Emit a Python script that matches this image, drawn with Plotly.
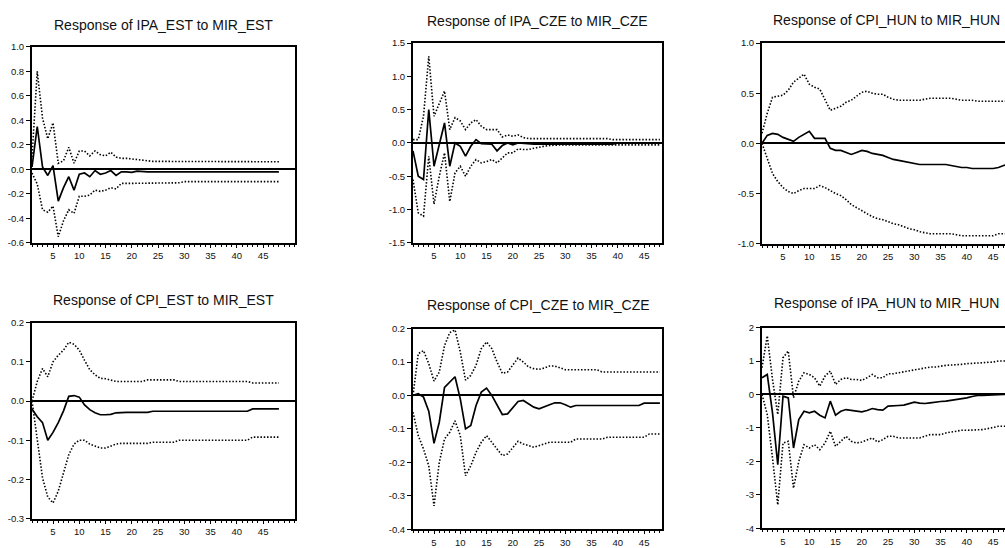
import plotly.graph_objects as go

# ---------------- data ----------------
periods = list(range(1, 49))

titles = [
    "Response of IPA_EST to MIR_EST",
    "Response of IPA_CZE to MIR_CZE",
    "Response of CPI_HUN to MIR_HUN",
    "Response of CPI_EST to MIR_EST",
    "Response of CPI_CZE to MIR_CZE",
    "Response of IPA_HUN to MIR_HUN",
]

x_tick_vals = [5, 10, 15, 20, 25, 30, 35, 40, 45]
x_tick_text = ["5", "10", "15", "20", "25", "30", "35", "40", "45"]

# Panel 1: IPA_EST to MIR_EST
resp1 = [0.02, 0.35, 0.02, -0.05, 0.03, -0.26, -0.15, -0.06, -0.17, -0.04,
         -0.03, -0.06, -0.01, -0.04, -0.03, -0.01, -0.05, -0.02, -0.02, -0.025,
         -0.015, -0.02, -0.02, -0.02, -0.02, -0.02, -0.02, -0.02, -0.02, -0.02,
         -0.02, -0.02, -0.02, -0.02, -0.02, -0.02, -0.02, -0.02, -0.02, -0.02,
         -0.02, -0.02, -0.02, -0.02, -0.02, -0.02, -0.02, -0.02]
upper1 = [0.10, 0.80, 0.42, 0.25, 0.38, 0.05, 0.07, 0.18, 0.05, 0.15,
          0.15, 0.11, 0.15, 0.12, 0.11, 0.14, 0.10, 0.09, 0.09, 0.085,
          0.075, 0.07, 0.065, 0.065, 0.065, 0.065, 0.064, 0.064, 0.064, 0.064,
          0.064, 0.064, 0.064, 0.064, 0.063, 0.063, 0.063, 0.063, 0.063, 0.063,
          0.063, 0.063, 0.062, 0.062, 0.062, 0.062, 0.062, 0.062]
lower1 = [-0.03, -0.12, -0.33, -0.35, -0.30, -0.55, -0.42, -0.33, -0.36, -0.22,
          -0.22, -0.21, -0.17, -0.18, -0.17, -0.15, -0.16, -0.115, -0.115, -0.115,
          -0.115, -0.115, -0.115, -0.115, -0.115, -0.115, -0.115, -0.115, -0.11, -0.10,
          -0.10, -0.10, -0.10, -0.10, -0.10, -0.10, -0.10, -0.10, -0.10, -0.10,
          -0.10, -0.10, -0.10, -0.10, -0.10, -0.10, -0.10, -0.10]

# Panel 2: IPA_CZE to MIR_CZE
resp2 = [-0.12, -0.50, -0.55, 0.50, -0.35, 0.00, 0.30, -0.35, 0.00, -0.05,
         -0.20, -0.05, 0.05, -0.01, -0.02, -0.02, -0.12, -0.04, 0.00, -0.03,
         0.00, -0.01, -0.02, -0.02, -0.02, -0.02, -0.03, -0.03, -0.02, -0.02,
         -0.02, -0.02, -0.02, -0.02, -0.02, -0.02, -0.02, -0.02, -0.02, 0.00,
         0.00, 0.00, 0.00, 0.00, 0.00, 0.00, 0.00, 0.00]
upper2 = [0.05, 0.05, 0.40, 1.30, 0.40, 0.60, 0.78, 0.20, 0.38, 0.33,
          0.20, 0.30, 0.35, 0.25, 0.20, 0.20, 0.20, 0.09, 0.12, 0.10,
          0.12, 0.08, 0.065, 0.065, 0.065, 0.065, 0.065, 0.065, 0.065, 0.065,
          0.065, 0.065, 0.065, 0.065, 0.065, 0.065, 0.065, 0.065, 0.05, 0.05,
          0.05, 0.05, 0.05, 0.05, 0.05, 0.05, 0.05, 0.05]
lower2 = [-0.55, -1.05, -1.10, -0.20, -0.92, -0.50, -0.15, -0.88, -0.45, -0.35,
          -0.50, -0.35, -0.25, -0.30, -0.28, -0.25, -0.30, -0.22, -0.15, -0.15,
          -0.09, -0.10, -0.10, -0.08, -0.06, -0.05, -0.04, -0.03, -0.03, -0.03,
          -0.03, -0.03, -0.03, -0.03, -0.03, -0.03, -0.03, -0.03, -0.03, -0.03,
          -0.03, -0.03, -0.03, -0.03, -0.03, -0.03, -0.03, -0.03]

# Panel 3: CPI_HUN to MIR_HUN
resp3 = [0.00, 0.08, 0.10, 0.09, 0.06, 0.04, 0.02, 0.06, 0.09, 0.12,
         0.05, 0.05, 0.05, -0.05, -0.07, -0.07, -0.09, -0.11, -0.09, -0.07,
         -0.08, -0.10, -0.11, -0.12, -0.14, -0.16, -0.17, -0.18, -0.19, -0.20,
         -0.21, -0.21, -0.21, -0.21, -0.21, -0.21, -0.22, -0.23, -0.24, -0.24,
         -0.25, -0.25, -0.25, -0.25, -0.25, -0.24, -0.22, -0.21]
upper3 = [0.10, 0.30, 0.46, 0.47, 0.48, 0.53, 0.61, 0.65, 0.69, 0.59,
          0.56, 0.54, 0.43, 0.33, 0.35, 0.37, 0.41, 0.43, 0.47, 0.51,
          0.52, 0.50, 0.49, 0.49, 0.46, 0.44, 0.43, 0.43, 0.43, 0.43,
          0.43, 0.44, 0.45, 0.45, 0.45, 0.45, 0.45, 0.44, 0.43, 0.43,
          0.43, 0.42, 0.42, 0.42, 0.42, 0.42, 0.42, 0.42]
lower3 = [0.00, -0.15, -0.30, -0.38, -0.44, -0.48, -0.50, -0.47, -0.45, -0.45,
          -0.45, -0.42, -0.44, -0.47, -0.50, -0.52, -0.56, -0.61, -0.64, -0.67,
          -0.70, -0.73, -0.75, -0.76, -0.78, -0.80, -0.81, -0.83, -0.85, -0.86,
          -0.88, -0.89, -0.90, -0.90, -0.90, -0.90, -0.90, -0.91, -0.92, -0.92,
          -0.92, -0.92, -0.92, -0.92, -0.92, -0.90, -0.90, -0.90]

# Panel 4: CPI_EST to MIR_EST
resp4 = [-0.02, -0.04, -0.055, -0.10, -0.08, -0.055, -0.025, 0.012, 0.014, 0.010,
         -0.010, -0.022, -0.030, -0.035, -0.035, -0.034, -0.030, -0.029, -0.029, -0.029,
         -0.029, -0.029, -0.029, -0.026, -0.026, -0.026, -0.026, -0.026, -0.026, -0.026,
         -0.026, -0.026, -0.026, -0.026, -0.026, -0.026, -0.026, -0.026, -0.026, -0.026,
         -0.026, -0.026, -0.020, -0.020, -0.020, -0.020, -0.020, -0.020]
upper4 = [0.000, 0.050, 0.083, 0.062, 0.100, 0.117, 0.130, 0.150, 0.145, 0.130,
          0.104, 0.080, 0.067, 0.058, 0.057, 0.053, 0.050, 0.050, 0.050, 0.050,
          0.050, 0.050, 0.054, 0.054, 0.054, 0.054, 0.054, 0.054, 0.050, 0.050,
          0.050, 0.050, 0.050, 0.050, 0.050, 0.050, 0.050, 0.050, 0.050, 0.050,
          0.050, 0.050, 0.046, 0.046, 0.046, 0.046, 0.046, 0.046]
lower4 = [0.000, -0.100, -0.196, -0.245, -0.260, -0.230, -0.180, -0.137, -0.110, -0.100,
          -0.100, -0.110, -0.115, -0.120, -0.120, -0.115, -0.110, -0.108, -0.108, -0.108,
          -0.108, -0.108, -0.108, -0.105, -0.105, -0.105, -0.105, -0.105, -0.100, -0.100,
          -0.100, -0.100, -0.100, -0.100, -0.100, -0.100, -0.100, -0.100, -0.100, -0.100,
          -0.100, -0.100, -0.092, -0.092, -0.092, -0.092, -0.092, -0.092]

# Panel 5: CPI_CZE to MIR_CZE
resp5 = [0.000, 0.005, -0.005, -0.047, -0.143, -0.080, 0.024, 0.040, 0.056, -0.010,
         -0.100, -0.090, -0.030, 0.010, 0.022, 0.000, -0.030, -0.057, -0.055, -0.035,
         -0.018, -0.015, -0.025, -0.035, -0.040, -0.035, -0.028, -0.022, -0.022, -0.028,
         -0.035, -0.030, -0.030, -0.030, -0.030, -0.030, -0.030, -0.030, -0.030, -0.030,
         -0.030, -0.030, -0.030, -0.030, -0.023, -0.023, -0.023, -0.023]
upper5 = [0.000, 0.125, 0.134, 0.095, 0.043, 0.070, 0.149, 0.188, 0.196, 0.130,
          0.046, 0.060, 0.090, 0.140, 0.160, 0.140, 0.100, 0.066, 0.070, 0.090,
          0.112, 0.100, 0.085, 0.080, 0.078, 0.082, 0.088, 0.088, 0.082, 0.077,
          0.077, 0.077, 0.077, 0.077, 0.077, 0.077, 0.070, 0.070, 0.070, 0.070,
          0.070, 0.070, 0.070, 0.070, 0.070, 0.070, 0.070, 0.070]
lower5 = [-0.050, -0.120, -0.160, -0.210, -0.330, -0.200, -0.130, -0.110, -0.076, -0.120,
          -0.240, -0.210, -0.170, -0.140, -0.120, -0.140, -0.160, -0.180, -0.175, -0.155,
          -0.137, -0.145, -0.150, -0.155, -0.150, -0.145, -0.140, -0.140, -0.140, -0.140,
          -0.140, -0.130, -0.130, -0.130, -0.130, -0.130, -0.130, -0.125, -0.125, -0.125,
          -0.125, -0.125, -0.125, -0.125, -0.125, -0.115, -0.115, -0.115]

# Panel 6: IPA_HUN to MIR_HUN
resp6 = [0.50, 0.60, -0.55, -2.10, -0.05, -0.10, -1.60, -0.75, -0.50, -0.55,
         -0.50, -0.62, -0.70, -0.20, -0.62, -0.50, -0.45, -0.47, -0.50, -0.52,
         -0.48, -0.42, -0.45, -0.47, -0.35, -0.33, -0.33, -0.32, -0.28, -0.23,
         -0.26, -0.27, -0.25, -0.22, -0.21, -0.20, -0.18, -0.15, -0.12, -0.10,
         -0.06, -0.03, -0.03, -0.02, 0.00, 0.00, 0.00, 0.00]
upper6 = [0.80, 1.75, 0.45, -0.60, 1.10, 1.30, -0.10, 0.40, 0.65, 0.60,
          0.50, 0.25, 0.55, 0.70, 0.30, 0.45, 0.50, 0.45, 0.45, 0.42,
          0.50, 0.60, 0.50, 0.50, 0.62, 0.62, 0.65, 0.68, 0.72, 0.75,
          0.76, 0.80, 0.82, 0.82, 0.85, 0.87, 0.88, 0.88, 0.90, 0.92,
          0.93, 0.93, 0.94, 0.95, 0.97, 1.00, 1.00, 1.00]
lower6 = [0.00, -0.60, -1.90, -3.30, -1.45, -1.40, -2.80, -2.00, -1.50, -1.60,
          -1.50, -1.65, -1.45, -1.10, -1.55, -1.40, -1.25, -1.40, -1.45, -1.42,
          -1.35, -1.30, -1.42, -1.35, -1.25, -1.25, -1.30, -1.30, -1.30, -1.30,
          -1.30, -1.25, -1.20, -1.20, -1.20, -1.15, -1.12, -1.10, -1.07, -1.07,
          -1.07, -1.05, -1.05, -1.02, -0.98, -0.95, -0.95, -0.95]

y_tick_vals = [
    [-0.6, -0.4, -0.2, 0.0, 0.2, 0.4, 0.6, 0.8, 1.0],
    [-1.5, -1.0, -0.5, 0.0, 0.5, 1.0, 1.5],
    [-1.0, -0.5, 0.0, 0.5, 1.0],
    [-0.3, -0.2, -0.1, 0.0, 0.1, 0.2],
    [-0.4, -0.3, -0.2, -0.1, 0.0, 0.1, 0.2],
    [-4, -3, -2, -1, 0, 1, 2],
]
y_tick_text = [
    ["-0.6", "-0.4", "-0.2", "0.0", "0.2", "0.4", "0.6", "0.8", "1.0"],
    ["-1.5", "-1.0", "-0.5", "0.0", "0.5", "1.0", "1.5"],
    ["-1.0", "-0.5", "0.0", "0.5", "1.0"],
    ["-0.3", "-0.2", "-0.1", "0.0", "0.1", "0.2"],
    ["-0.4", "-0.3", "-0.2", "-0.1", "0.0", "0.1", "0.2"],
    ["-4", "-3", "-2", "-1", "0", "1", "2"],
]

responses = [resp1, resp2, resp3, resp4, resp5, resp6]
uppers = [upper1, upper2, upper3, upper4, upper5, upper6]
lowers = [lower1, lower2, lower3, lower4, lower5, lower6]

# ---------------- layout (pixel boxes in the window) ----------------
W, H = 1005, 548
# (left, right, top, bottom); right column is cut by the window edge
boxes = [
    (32, 295, 42, 243),
    (413, 662, 38, 243),
    (762, 1005, 38, 244),
    (32, 295, 325, 526),
    (413, 662, 331, 537),
    (762, 1005, 330, 536),
]
px_per_period = 249 / 47.4
x_ranges = [[1, 1 + (r - l) / px_per_period] for (l, r, t, b) in boxes]
cut_right = [False, False, True, False, False, True]
title_pos = [(163, 19), (537, 15), (886, 14), (163, 302), (538, 307), (886, 305)]

fig = go.Figure()
tick_font = dict(family="Liberation Sans, Arial, sans-serif", size=9.5, color="#111111")

for i in range(6):
    ax = "" if i == 0 else str(i + 1)
    xref, yref = "x" + ax, "y" + ax
    for band in (uppers[i], lowers[i]):
        fig.add_trace(go.Scatter(
            x=periods, y=band, mode="lines", xaxis=xref, yaxis=yref,
            line=dict(color="black", width=1.6, dash="1.5px,1.8px"),
            showlegend=False, hoverinfo="skip"))
    fig.add_trace(go.Scatter(
        x=periods, y=responses[i], mode="lines", xaxis=xref, yaxis=yref,
        line=dict(color="black", width=1.7), showlegend=False))

    l, r, t, b = boxes[i]
    yv = y_tick_vals[i]
    fig.layout["xaxis" + ax] = dict(
        domain=[l / W, r / W], anchor=yref, range=x_ranges[i],
        tickmode="array", tickvals=x_tick_vals, ticktext=x_tick_text,
        ticks="outside", ticklen=3, tickwidth=1, tickcolor="black",
        minor=dict(ticks="outside", ticklen=2, tickmode="linear", tick0=1, dtick=1,
                   tickcolor="black", tickwidth=1),
        showline=True, linecolor="black", linewidth=2, mirror=True,
        showgrid=False, zeroline=False, tickfont=tick_font, fixedrange=True,
        ticklabeloverflow="allow")
    fig.layout["yaxis" + ax] = dict(
        domain=[1 - b / H, 1 - t / H], anchor=xref, range=[yv[0], yv[-1]],
        tickmode="array", tickvals=yv, ticktext=y_tick_text[i],
        ticks="outside", ticklen=4, tickwidth=1, tickcolor="black",
        showline=True, linecolor="black", linewidth=2, mirror=not cut_right[i],
        showgrid=False, zeroline=True, zerolinecolor="black", zerolinewidth=1.6,
        tickfont=tick_font, fixedrange=True, ticklabeloverflow="allow")
    tx, ty = title_pos[i]
    fig.add_annotation(
        text=titles[i], x=tx / W, y=1 - ty / H, xref="paper", yref="paper",
        xanchor="center", yanchor="middle", showarrow=False,
        font=dict(family="Liberation Sans, Arial, sans-serif", size=14, color="#111111"))

fig.update_layout(
    width=W, height=H, margin=dict(l=0, r=0, t=0, b=0),
    paper_bgcolor="white", plot_bgcolor="white", showlegend=False)

# let the figure fill the window exactly (no default page margin, no scrollbars)
page_fix = ("document.documentElement.style.overflow='hidden';"
            "document.body.style.margin='0';document.body.style.overflow='hidden';")
fig.write_html("out.html", config={"displayModeBar": False}, post_script=page_fix)
